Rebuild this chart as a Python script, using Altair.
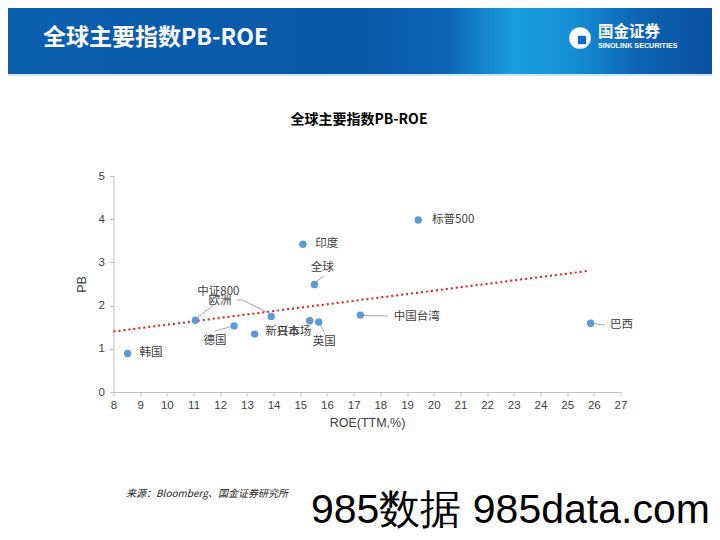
import altair as alt
import pandas as pd

# ---- data ----
names = ["韩国", "中证800", "德国", "新兴市场", "欧洲", "印度", "全球", "日本", "英国", "中国台湾", "标普500", "巴西"]
roe = [8.53, 11.07, 12.52, 13.29, 13.91, 15.10, 15.53, 15.35, 15.69, 17.25, 19.42, 25.88]
pb = [0.89, 1.66, 1.53, 1.34, 1.75, 3.42, 2.49, 1.65, 1.62, 1.78, 3.98, 1.59]

# label anchor positions (data units)
label_x = [9.41, 11.93, 11.99, 11.80, 14.55, 15.99, 15.82, 14.55, 15.90, 19.36, 20.73, 27.04]
label_y = [0.90, 2.32, 2.11, 1.18, 1.39, 3.42, 2.88, 1.39, 1.16, 1.74, 3.98, 1.55]
label_text = ["韩国", "中证800", "欧洲", "德国", "新兴市场", "印度", "全球", "日本", "英国", "中国台湾", "标普500", "巴西"]

# leader lines (data units)
lead_x1 = [11.05, 12.62, 12.84, 11.80, 15.71, 15.55, 17.36, 25.92]
lead_y1 = [1.68, 2.13, 2.13, 1.41, 1.60, 2.53, 1.77, 1.59]
lead_x2 = [11.74, 12.84, 13.80, 12.43, 15.92, 15.84, 18.30, 26.42]
lead_y2 = [2.01, 2.13, 1.83, 1.52, 1.35, 2.67, 1.76, 1.55]

# trend line end points
trend_x = [8.0, 25.75]
trend_y = [1.40, 2.80]

x_ticks = list(range(8, 28))
y_ticks = [0, 1, 2, 3, 4, 5]

page_title = "全球主要指数PB-ROE"
chart_title = "全球主要指数PB-ROE"
source_text = "来源：Bloomberg、国金证券研究所"
watermark = "985数据 985data.com"

# ---- layout ----
W, H = 507, 216
PL, PT = 105.5, 168
PR, PB_ = 704 - PL - W, 524 - PT - H

pts = pd.DataFrame({"name": names, "roe": roe, "pb": pb})
lbl = pd.DataFrame({"t": label_text, "x": label_x, "y": label_y})
lead = pd.DataFrame({"x": lead_x1, "y": lead_y1, "x2": lead_x2, "y2": lead_y2})
trend = pd.DataFrame({"x": trend_x, "y": trend_y})
one = pd.DataFrame({"a": [0]})

xs = alt.Scale(domain=[8, 27], nice=False, zero=False)
ys = alt.Scale(domain=[0, 5], nice=False, zero=True)

CJK = "Noto Sans CJK SC"
LAT = "Liberation Sans"

x_axis = alt.Axis(values=x_ticks, title="ROE(TTM,%)", grid=False, tickSize=4, labelPadding=3,
                  titlePadding=6, domainColor="#bfbfbf", tickColor="#bfbfbf",
                  labelOverlap=False, labelFlush=False,
                  labelFont=LAT, labelFontSize=11.5, labelColor="#404040",
                  titleFont=LAT, titleFontSize=12.5, titleFontWeight="normal", titleColor="#404040")
y_axis = alt.Axis(values=y_ticks, title="PB", grid=False, tickSize=4, labelPadding=5,
                  titlePadding=10, domainColor="#bfbfbf", tickColor="#bfbfbf",
                  labelOverlap=False, labelFlush=False,
                  labelFont=LAT, labelFontSize=11.5, labelColor="#404040",
                  titleFont=LAT, titleFontSize=12.5, titleFontWeight="normal", titleColor="#404040")

# banner
banner = alt.Chart(one).mark_rect(
    color=alt.Gradient(
        gradient="linear",
        stops=[
            alt.GradientStop(color="#0c5eae", offset=0),
            alt.GradientStop(color="#0a58aa", offset=0.5),
            alt.GradientStop(color="#0d63b6", offset=0.62),
            alt.GradientStop(color="#1aa0e0", offset=0.72),
            alt.GradientStop(color="#1590d6", offset=0.8),
            alt.GradientStop(color="#0e62b4", offset=0.9),
            alt.GradientStop(color="#0b50a2", offset=1),
        ],
        x1=0, x2=1, y1=0, y2=0,
    )
).encode(x=alt.value(-PL), x2=alt.value(W + PR), y=alt.value(-PT), y2=alt.value(-102))

banner_line = alt.Chart(one).mark_rect(color="#cfe6f3").encode(
    x=alt.value(-PL), x2=alt.value(W + PR), y=alt.value(-102), y2=alt.value(-100)
)

banner_title = alt.Chart(one).mark_text(
    text=page_title, font=CJK, fontSize=23, fontWeight="bold", color="white", align="left", baseline="middle"
).encode(x=alt.value(43 - 113.5), y=alt.value(38 - 176))

logo_c = alt.Chart(one).mark_point(filled=True, shape="circle", color="white", opacity=1).encode(
    x=alt.value(580 - 113.5), y=alt.value(38 - 176), size=alt.value(470)
)
logo_s = alt.Chart(one).mark_point(filled=True, shape="square", color="#0f6bbd", opacity=1).encode(
    x=alt.value(582 - 113.5), y=alt.value(40 - 176), size=alt.value(70)
)
logo_t1 = alt.Chart(one).mark_text(
    text="国金证券", font=CJK, fontSize=15.5, fontWeight="bold", color="white", align="left", baseline="middle"
).encode(x=alt.value(598 - 113.5), y=alt.value(32 - 176))
logo_t2 = alt.Chart(one).mark_text(
    text="SINOLINK SECURITIES", font=LAT, fontSize=7.2, fontWeight="bold", color="white", align="left", baseline="middle"
).encode(x=alt.value(598 - 113.5), y=alt.value(46 - 176))

ctitle = alt.Chart(one).mark_text(
    text=chart_title, font=CJK, fontSize=14, fontWeight="bold", color="#000000", align="center", baseline="middle"
).encode(x=alt.value(359 - 113.5), y=alt.value(120 - 176))

src = alt.Chart(one).mark_text(
    text=source_text, font=CJK, fontSize=10, fontStyle="italic", color="#222222", align="left", baseline="middle"
).encode(x=alt.value(126 - 113.5), y=alt.value(494 - 176))

wm = alt.Chart(one).mark_text(
    text=watermark, font=LAT, fontSize=41, color="#000000", align="left", baseline="middle"
).encode(x=alt.value(311 - 113.5), y=alt.value(511 - 176))

# data layers
trend_l = alt.Chart(trend).mark_line(color="#e31a1c", strokeWidth=2, strokeDash=[2, 3]).encode(
    x=alt.X("x:Q", scale=xs, axis=x_axis), y=alt.Y("y:Q", scale=ys, axis=y_axis)
)

leads = alt.Chart(lead).mark_rule(color="#a6a6a6", strokeWidth=1).encode(
    x=alt.X("x:Q", scale=xs, axis=x_axis), y=alt.Y("y:Q", scale=ys, axis=y_axis), x2="x2:Q", y2="y2:Q"
)

points = alt.Chart(pts).mark_circle(color="#5b9bd5", opacity=1, size=55).encode(
    x=alt.X("roe:Q", scale=xs, axis=x_axis),
    y=alt.Y("pb:Q", scale=ys, axis=y_axis),
    tooltip=["name", "roe", "pb"],
)

labels = alt.Chart(lbl).mark_text(font=CJK, fontSize=11.5, color="#404040", align="center", baseline="middle").encode(
    x=alt.X("x:Q", scale=xs, axis=x_axis), y=alt.Y("y:Q", scale=ys, axis=y_axis), text="t:N"
)

chart = alt.layer(
    banner, banner_line, banner_title, logo_c, logo_s, logo_t1, logo_t2,
    ctitle, src, wm, trend_l, leads, points, labels
).properties(
    width=W, height=H,
    background="white",
    autosize=alt.AutoSizeParams(type="none"),
    padding={"left": PL, "top": PT, "right": PR, "bottom": PB_},
).configure_view(strokeWidth=0, stroke="transparent")

chart.save("out.html", embed_options={"renderer": "svg", "actions": False})
